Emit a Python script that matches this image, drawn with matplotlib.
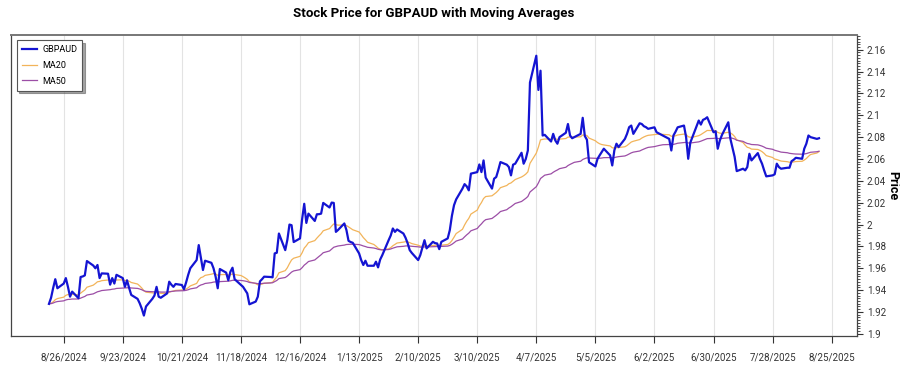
import numpy as np
import pandas as pd
import matplotlib
matplotlib.use('Agg')
import matplotlib.pyplot as plt
from matplotlib.ticker import MultipleLocator, FuncFormatter

# daily closes, business days starting 2024-08-19
start_date = '2024-08-19'
prices = [
    1.9274, 1.9330, 1.9420, 1.9500, 1.9417,
    1.9460, 1.9510, 1.9430, 1.9340, 1.9386,
    1.9326, 1.9520, 1.9525, 1.9535, 1.9666,
    1.9625, 1.9600, 1.9630, 1.9510, 1.9553,
    1.9550, 1.9450, 1.9510, 1.9460, 1.9540,
    1.9510, 1.9430, 1.9490, 1.9420, 1.9356,
    1.9320, 1.9280, 1.9230, 1.9167, 1.9250,
    1.9320, 1.9350, 1.9430, 1.9340, 1.9330,
    1.9370, 1.9477, 1.9450, 1.9430, 1.9456,
    1.9447, 1.9408, 1.9470, 1.9540, 1.9600,
    1.9675, 1.9812, 1.9700, 1.9584, 1.9669,
    1.9650, 1.9600, 1.9523, 1.9417, 1.9593,
    1.9560, 1.9490, 1.9568, 1.9605, 1.9500,
    1.9447, 1.9430, 1.9400, 1.9370, 1.9270,
    1.9295, 1.9340, 1.9480, 1.9500, 1.9523,
    1.9520, 1.9517, 1.9736, 1.9742, 1.9918,
    1.9766, 1.9860, 2.0000, 1.9994, 1.9840,
    1.9873, 2.0050, 2.0190, 2.0015, 2.0100,
    2.0033, 2.0094, 2.0095, 2.0100, 2.0198,
    2.0156, 2.0201, 2.0198, 1.9933, 1.9950,
    2.0010, 1.9950, 1.9851, 1.9840, 1.9833,
    1.9736, 1.9675, 1.9630, 1.9669, 1.9623,
    1.9623, 1.9660, 1.9608, 1.9680, 1.9720,
    1.9857, 1.9900, 1.9964, 1.9933, 1.9955,
    1.9918, 1.9880, 1.9830, 1.9766, 1.9740,
    1.9675, 1.9720, 1.9790, 1.9857, 1.9782,
    1.9842, 1.9830, 1.9827, 1.9775, 1.9842,
    1.9873, 1.9949, 2.0080, 2.0177, 2.0230,
    2.0329, 2.0370, 2.0350, 2.0313, 2.0466,
    2.0480, 2.0550, 2.0480, 2.0587, 2.0430,
    2.0329, 2.0420, 2.0435, 2.0500, 2.0572,
    2.0548, 2.0526, 2.0450, 2.0548, 2.0557,
    2.0657, 2.0557, 2.0600, 2.0678, 2.1300,
    2.1545, 2.1232, 2.1408, 2.0815, 2.0821,
    2.0760, 2.0830, 2.0770, 2.0740, 2.0800,
    2.0840, 2.0920, 2.0815, 2.0790, 2.0800,
    2.0830, 2.0977, 2.0810, 2.0776, 2.0570,
    2.0532, 2.0600, 2.0633, 2.0663, 2.0694,
    2.0633, 2.0541, 2.0680, 2.0740, 2.0709,
    2.0784, 2.0830, 2.0891, 2.0906, 2.0830,
    2.0927, 2.0920, 2.0900, 2.0891, 2.0876,
    2.0890, 2.0845, 2.0835, 2.0825, 2.0815,
    2.0784, 2.0678, 2.0815, 2.0850, 2.0890,
    2.0906, 2.0800, 2.0602, 2.0750, 2.0800,
    2.0952, 2.0915, 2.0958, 2.0967, 2.0982,
    2.0845, 2.0854, 2.0694, 2.0770, 2.0820,
    2.0936, 2.0784, 2.0700, 2.0620, 2.0489,
    2.0511, 2.0496, 2.0526, 2.0648, 2.0587,
    2.0654, 2.0600, 2.0557, 2.0496, 2.0441,
    2.0450, 2.0460, 2.0557, 2.0526, 2.0511,
    2.0520, 2.0520, 2.0580, 2.0593, 2.0611,
    2.0602, 2.0694, 2.0740, 2.0815, 2.0800,
    2.0784, 2.0790,
]
tick_dates = ['2024-08-26', '2024-09-23', '2024-10-21', '2024-11-18', '2024-12-16',
              '2025-01-13', '2025-02-10', '2025-03-10', '2025-04-07', '2025-05-05',
              '2025-06-02', '2025-06-30', '2025-07-28', '2025-08-25']
y_ticks = [1.9, 1.92, 1.94, 1.96, 1.98, 2.0, 2.02, 2.04, 2.06, 2.08, 2.1, 2.12, 2.14, 2.16]

dates = pd.bdate_range(start_date, periods=len(prices))
s = pd.Series(prices, index=dates)
# exponential moving averages, 20 and 50 periods
ma20 = s.ewm(span=20, adjust=False).mean()
ma50 = s.ewm(span=50, adjust=False).mean()

plt.rcParams['font.family'] = ['Roboto', 'DejaVu Sans']

fig = plt.figure(figsize=(9, 3.75), dpi=100)
ax = fig.add_axes([0.0122, 0.104, 0.9400, 0.8027])

ax.plot(s.index, s.values, color='#1414d2', lw=1.6, label='GBPAUD', zorder=4)
ax.plot(ma20.index, ma20.values, color='#f2b45a', lw=0.9, label='MA20', zorder=3)
ax.plot(ma50.index, ma50.values, color='#9c4ea6', lw=0.9, label='MA50', zorder=3)

ax.set_xlim(pd.Timestamp('2024-08-01'), pd.Timestamp('2025-09-06'))
ax.set_ylim(1.898, 2.1735)

tks = pd.to_datetime(tick_dates)
ax.set_xticks(tks)
ax.set_xticklabels([f'{d.month}/{d.day}/{d.year}' for d in tks])
ax.grid(axis='x', color='#e3e3e3', lw=0.8)
ax.set_axisbelow(True)

ax.yaxis.tick_right()
ax.yaxis.set_label_position('right')
ax.set_yticks(y_ticks)
ax.yaxis.set_major_formatter(FuncFormatter(lambda v, p: f'{v:g}'))
ax.yaxis.set_minor_locator(MultipleLocator(0.0025))
ax.tick_params(axis='y', which='major', length=4, width=0.8, pad=3,
               labelsize=7, colors='#333333')
ax.tick_params(axis='y', which='minor', length=2, width=0.6, colors='#333333')
ax.tick_params(axis='x', length=5, width=0.8, pad=7, labelsize=7, colors='#333333')
ax.set_ylabel('Price', rotation=-90, fontsize=9, fontweight='bold',
              va='center', ha='center')
ax.yaxis.set_label_coords(1.042, 0.5)

for sp in ax.spines.values():
    sp.set_color('#444444')
    sp.set_linewidth(0.9)
ax.spines['top'].set_color('#777777')
ax.spines['top'].set_linewidth(1.4)

ax.set_title('Stock Price for GBPAUD with Moving Averages', fontsize=9.5,
             fontweight='bold', pad=13)

leg = ax.legend(loc='upper left', fontsize=6.5, fancybox=False, shadow=True,
                edgecolor='#555555', borderpad=0.55, labelspacing=0.75,
                handlelength=1.7, handletextpad=0.6, borderaxespad=0,
                bbox_to_anchor=(0.0067, 0.983))
leg.get_frame().set_linewidth(0.8)

fig.savefig('out.png', dpi=100)
